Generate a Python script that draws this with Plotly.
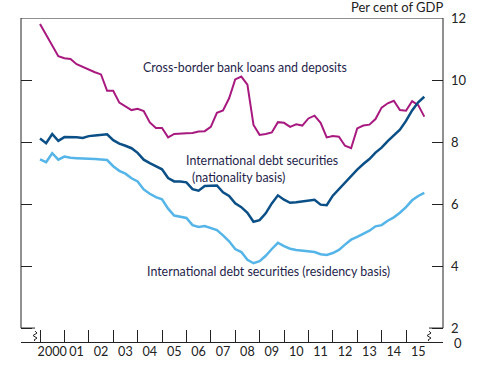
import plotly.graph_objects as go

start_year = 2000
cross_border = [11.81, 11.45, 11.10, 10.77, 10.70, 10.68, 10.51, 10.42, 10.34, 10.25,
                10.18, 9.65, 9.65, 9.27, 9.15, 9.03, 9.07, 9.00, 8.63, 8.45,
                8.45, 8.15, 8.26, 8.28, 8.28, 8.29, 8.34, 8.35, 8.49, 8.94,
                9.02, 9.41, 10.02, 10.11, 9.85, 8.55, 8.23, 8.26, 8.31, 8.64,
                8.62, 8.49, 8.57, 8.53, 8.76, 8.85, 8.62, 8.15, 8.19, 8.17,
                7.88, 7.80, 8.44, 8.53, 8.56, 8.74, 9.11, 9.25, 9.33, 9.03,
                9.01, 9.32, 9.19, 8.82]
nationality = [8.11, 7.96, 8.26, 8.04, 8.16, 8.16, 8.15, 8.13, 8.19, 8.21,
               8.22, 8.25, 8.06, 7.95, 7.88, 7.80, 7.65, 7.43, 7.32, 7.22,
               7.12, 6.84, 6.73, 6.73, 6.70, 6.48, 6.43, 6.58, 6.59, 6.60,
               6.38, 6.26, 6.02, 5.90, 5.72, 5.43, 5.48, 5.70, 6.02, 6.28,
               6.14, 6.04, 6.06, 6.09, 6.12, 6.14, 5.98, 5.96, 6.27, 6.48,
               6.70, 6.91, 7.11, 7.29, 7.45, 7.66, 7.82, 8.03, 8.20, 8.40,
               8.68, 9.02, 9.28, 9.46]
residency = [7.44, 7.35, 7.64, 7.43, 7.53, 7.49, 7.48, 7.46, 7.46, 7.45,
             7.44, 7.42, 7.22, 7.07, 6.98, 6.83, 6.73, 6.47, 6.33, 6.22,
             6.15, 5.85, 5.63, 5.59, 5.55, 5.32, 5.26, 5.29, 5.22, 5.16,
             4.99, 4.80, 4.55, 4.45, 4.20, 4.09, 4.16, 4.33, 4.55, 4.75,
             4.64, 4.56, 4.52, 4.50, 4.48, 4.45, 4.38, 4.36, 4.42, 4.52,
             4.69, 4.85, 4.94, 5.04, 5.14, 5.28, 5.32, 5.46, 5.57, 5.72,
             5.90, 6.12, 6.26, 6.36]
year_labels = ["2000", "01", "02", "03", "04", "05", "06", "07", "08",
               "09", "10", "11", "12", "13", "14", "15"]
y_ticks = [2, 4, 6, 8, 10, 12]
y_ticktext = ["2", "4", "6", "8", "10", "12"]
break_label = "0"

x = [start_year + i / 4 for i in range(len(cross_border))]

C_MAG = "#A8197F"
C_DARK = "#0B4F87"
C_LIGHT = "#55B5E8"
TXT = "#1F1F4A"
AX = "#222222"
FONT = "Lato"
FS = 13
FA = 12.4

XMIN, XMAX = 1999.221, 2016.516
YMIN, YMAX = 1.55, 12.0

fig = go.Figure()
fig.add_trace(go.Scatter(x=x, y=cross_border, mode="lines",
                         line=dict(color=C_MAG, width=2), showlegend=False))
fig.add_trace(go.Scatter(x=x, y=residency, mode="lines",
                         line=dict(color=C_LIGHT, width=2.5), showlegend=False))
fig.add_trace(go.Scatter(x=x, y=nationality, mode="lines",
                         line=dict(color=C_DARK, width=2.5), showlegend=False))
fig.add_trace(go.Scatter(x=[XMIN], y=[YMIN], mode="markers", marker=dict(opacity=0),
                         xaxis="x2", yaxis="y2", showlegend=False, hoverinfo="skip"))

year_bounds = [start_year + k for k in range(len(year_labels))]
year_mids = [start_year + k + 0.5 for k in range(len(year_labels))]

fig.update_layout(
    width=484, height=365,
    margin=dict(l=21, r=41, t=18, b=23, autoexpand=False),
    paper_bgcolor="white", plot_bgcolor="white",
    font=dict(family=FONT, size=FS, color=AX),
    xaxis=dict(range=[XMIN, XMAX], tickvals=year_bounds, ticks="inside",
               ticklen=12, tickcolor=AX, tickwidth=1, automargin=False,
               showticklabels=False, showgrid=False, zeroline=False,
               showline=True, linecolor=AX, linewidth=1),
    xaxis2=dict(range=[XMIN, XMAX], overlaying="x", side="bottom",
                tickvals=year_mids, ticktext=year_labels, ticks="", tickangle=0,
                automargin=False, showgrid=False, zeroline=False, showline=False,
                tickfont=dict(size=12.6, color=AX)),
    yaxis=dict(range=[YMIN, YMAX], side="right", automargin=False,
               tickvals=y_ticks, ticktext=y_ticktext, ticklabelstandoff=7,
               ticks="inside", ticklen=11, tickcolor=AX, tickwidth=1,
               showgrid=False, zeroline=False, showline=False,
               tickfont=dict(size=FS, color=AX)),
    yaxis2=dict(range=[YMIN, YMAX], overlaying="y", side="left", automargin=False,
                tickvals=y_ticks, ticks="inside", ticklen=11,
                tickcolor=AX, tickwidth=1, showticklabels=False,
                showgrid=False, zeroline=False, showline=False),
)

line = dict(color=AX, width=1)
shapes = [
    dict(type="line", xref="paper", yref="y", x0=0, x1=1, y0=12, y1=12, line=line),
    dict(type="line", xref="paper", yref="y", x0=0, x1=0, y0=2, y1=12, line=line),
    dict(type="line", xref="paper", yref="y", x0=1, x1=1, y0=2, y1=12, line=line),
    dict(type="line", xref="paper", yref="y", x0=0, x1=14 / 422, y0=2, y1=2, line=line),
    dict(type="line", xref="paper", yref="y", x0=1 - 14 / 422, x1=1, y0=2, y1=2, line=line),
]


def squiggle(px):
    pts = [(px, 331), (px + 2, 333), (px - 2, 335.5), (px + 2, 338), (px - 1, 340), (px, 341)]
    conv = [(XMIN + (a - 21) / 24.4, YMAX - (b - 18) / 31.0) for a, b in pts]
    return "M " + " L ".join(f"{a:.4f},{b:.4f}" for a, b in conv)


for px in (35, 429):
    shapes.append(dict(type="path", xref="x", yref="y", path=squiggle(px),
                       line=dict(color=AX, width=1)))
fig.update_layout(shapes=shapes)

ann = [
    dict(text="Per cent of GDP", x=1.005, y=1.035, xref="paper", yref="paper",
         xanchor="right", yanchor="middle", showarrow=False,
         font=dict(size=FS, color=AX)),
    dict(text=break_label, x=1, y=YMIN, xref="paper", yref="y",
         xanchor="left", yanchor="middle", xshift=9, yshift=-1, showarrow=False,
         font=dict(size=FS, color=AX)),
    dict(text="Cross-border bank loans and deposits", x=2004.14, y=10.39,
         xanchor="left", yanchor="middle", showarrow=False,
         font=dict(size=FA, color=TXT)),
    dict(text="International debt securities", x=2005.9, y=7.40,
         xanchor="left", yanchor="middle", showarrow=False,
         font=dict(size=FA, color=TXT)),
    dict(text="(nationality basis)", x=2006.15, y=6.87,
         xanchor="left", yanchor="middle", showarrow=False,
         font=dict(size=FA, color=TXT)),
    dict(text="International debt securities (residency basis)", x=2004.3, y=3.81,
         xanchor="left", yanchor="middle", showarrow=False,
         font=dict(size=FA, color=TXT)),
]
fig.update_layout(annotations=ann)

fig.write_html("out.html", config={"displayModeBar": False},
               post_script="document.body.style.margin='0';")
